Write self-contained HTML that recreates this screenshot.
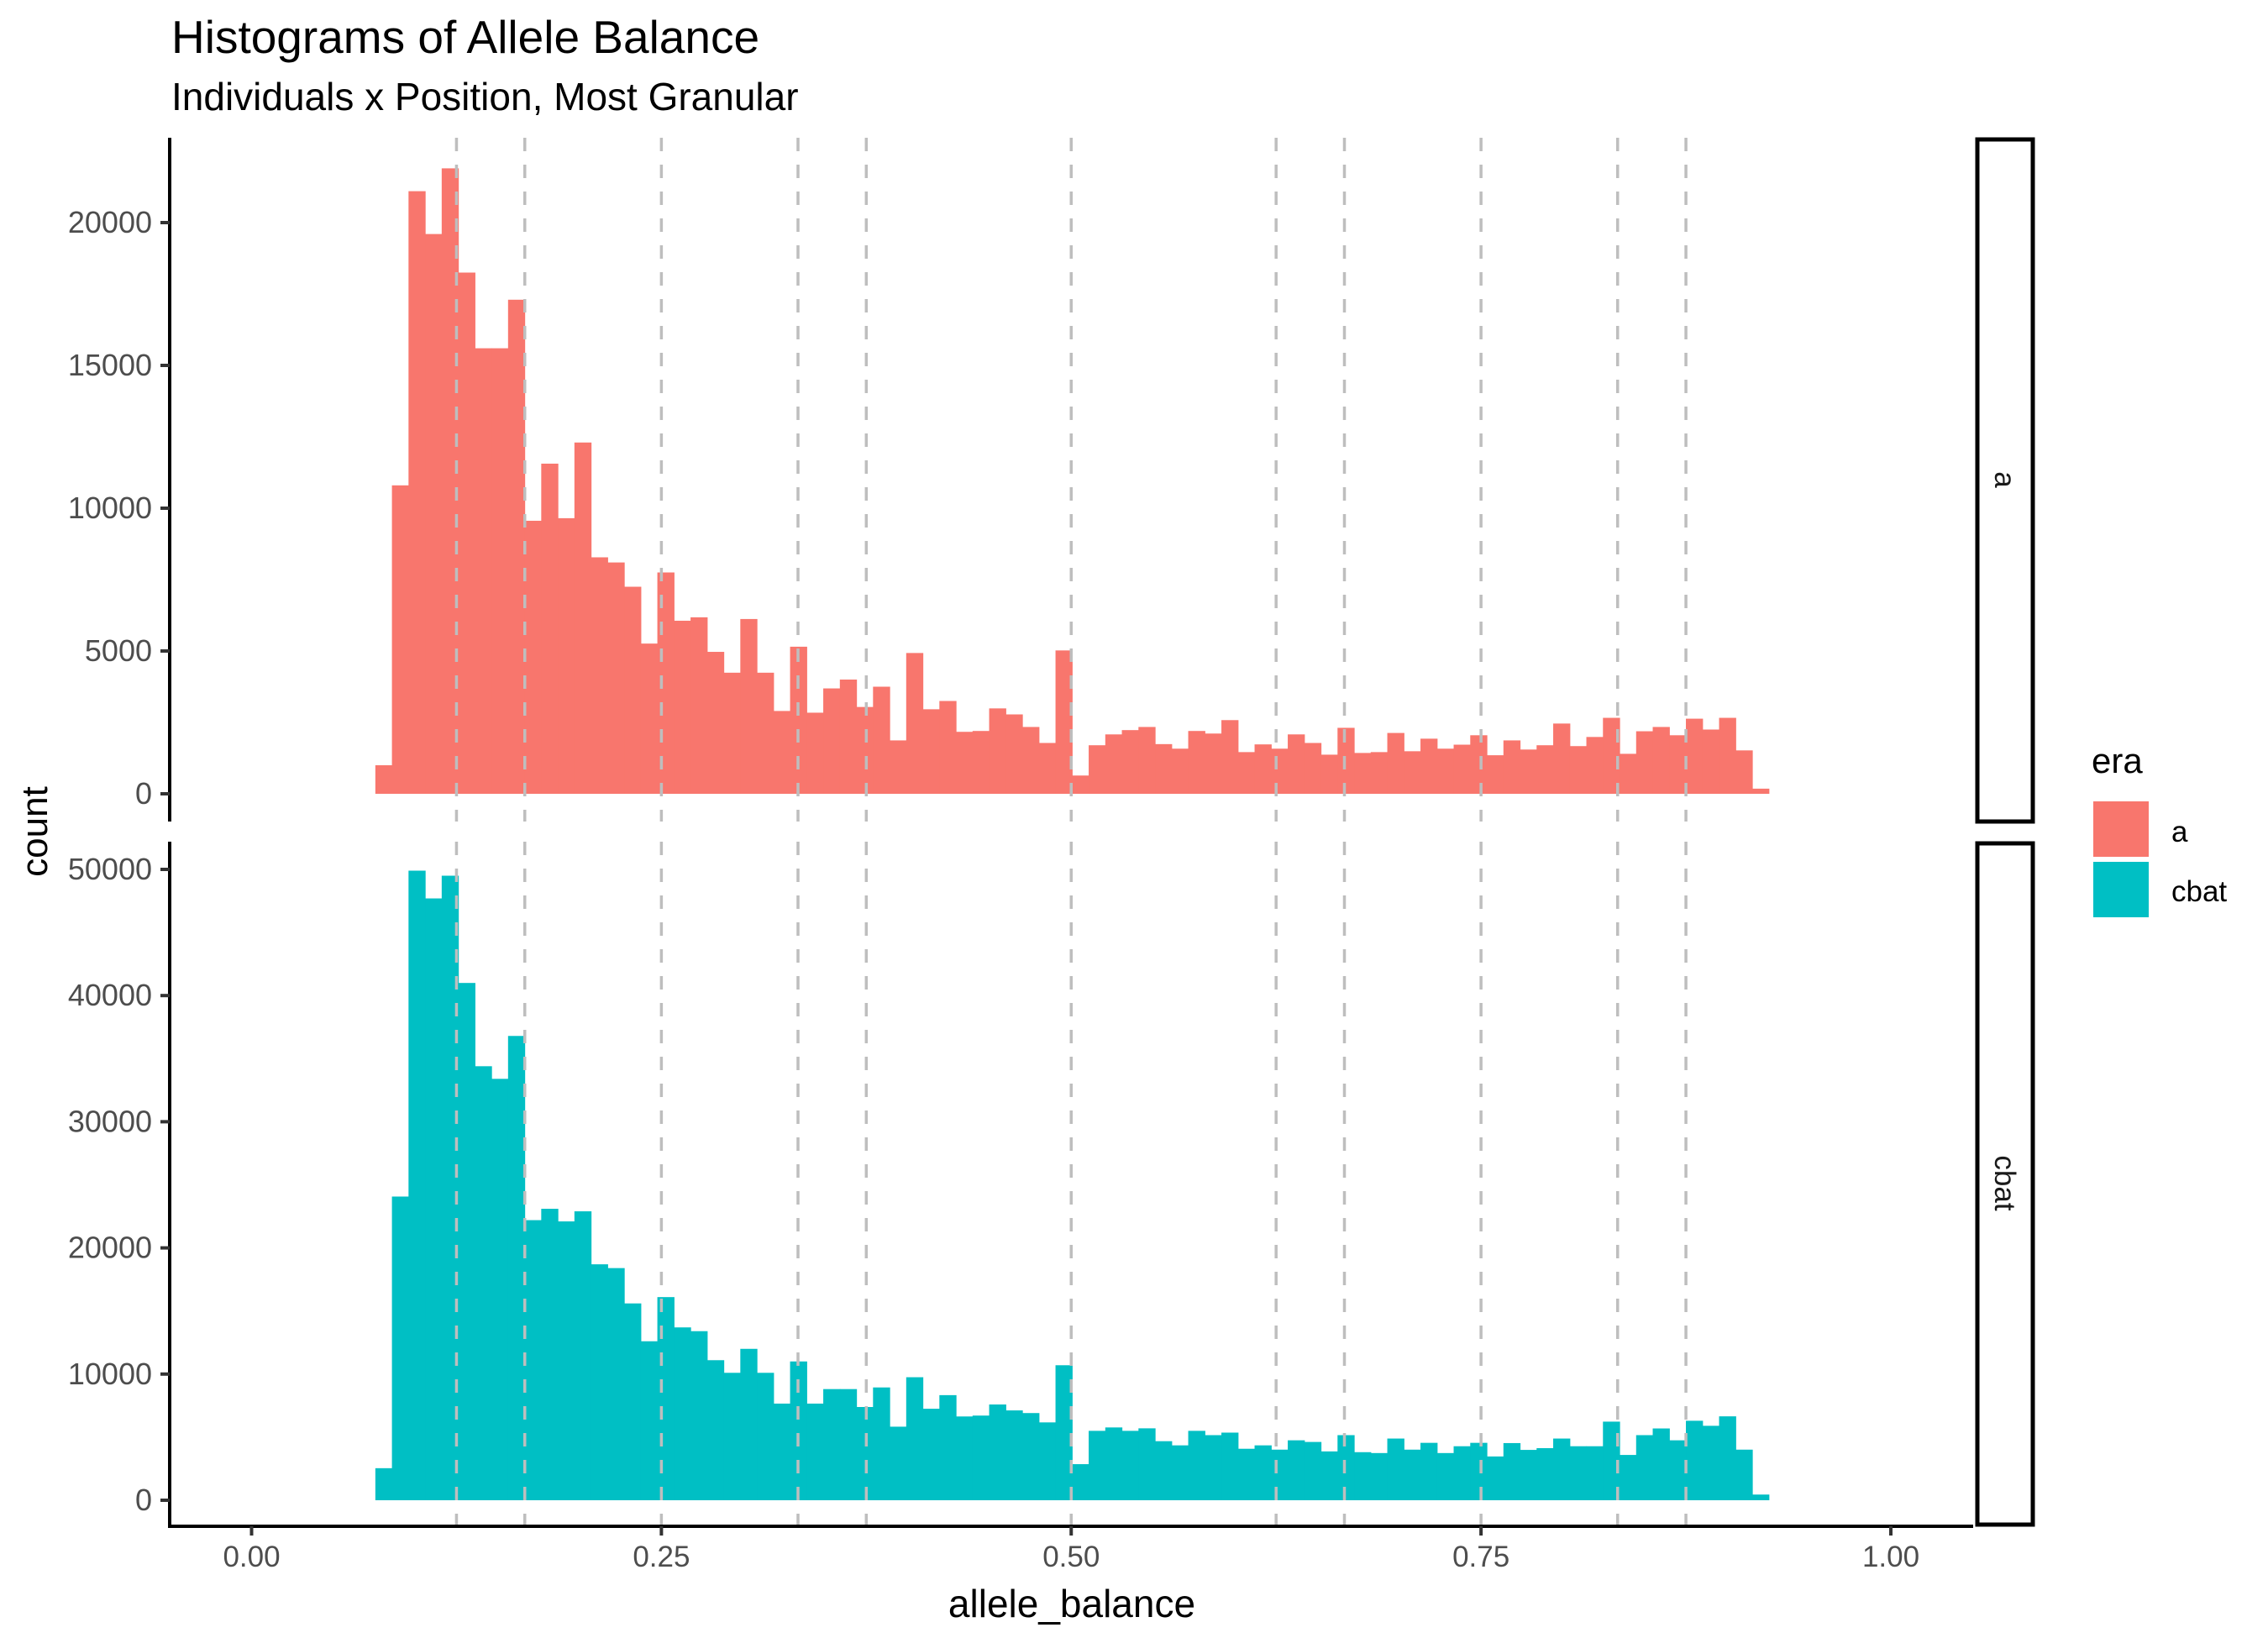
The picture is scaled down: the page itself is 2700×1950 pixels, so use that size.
<!DOCTYPE html>
<html>
<head>
<meta charset="utf-8">
<style>
html,body{margin:0;padding:0;background:#fff;}
svg{display:block;font-family:"Liberation Sans",Arial,sans-serif;}
</style>
</head>
<body>
<svg id="chart" width="2700" height="1950" viewBox="0 0 2700 1950" xmlns="http://www.w3.org/2000/svg">
  <rect x="0" y="0" width="2700" height="1950" fill="#fff"/>
  <text x="204" y="63" font-size="55" fill="#000">Histograms of Allele Balance</text>
  <text x="204" y="131" font-size="46" fill="#000">Individuals x Position, Most Granular</text>
  <g id="panels"></g>
  <text x="1276" y="1925" font-size="46" text-anchor="middle" fill="#000">allele_balance</text>
  <text transform="translate(56,990) rotate(-90)" font-size="44" text-anchor="middle" fill="#000">count</text>
  <text x="2490" y="920" font-size="42" fill="#000">era</text>
  <rect x="2492" y="954" width="66" height="66" fill="#F8766D"/>
  <text x="2585" y="1002" font-size="35" fill="#000">a</text>
  <rect x="2492" y="1026" width="66" height="66" fill="#00BFC4"/>
  <text x="2585" y="1073" font-size="35" fill="#000">cbat</text>
</svg>
<script>
// bins: 84 bins, start and width (allele_balance units)
const binStart = 0.0755;
const binWidth = 0.01012;
// counts per bin, era "a"
const countsA = [1000,10800,21100,19600,21900,18250,15600,15600,17300,9560,11560,9650,12300,8280,8100,7250,5260,7750,6060,6180,4970,4240,6120,4240,2900,5150,2840,3690,4000,3040,
3750,1870,4930,2960,3250,2170,2200,2990,2780,2340,1780,5020,
640,1700,2080,2230,2340,1740,1580,2200,2110,2580,1460,1730,1580,2080,1780,1370,2310,
1430,1460,2130,1490,1930,1580,1720,2050,1350,1870,1550,1700,2460,1670,1990,2660,1400,2190,2340,2050,2630,2250,2660,1520,180];
// counts per bin, era "cbat"
const countsCbat = [2540,24070,49900,47700,49500,41000,34400,33400,36800,22200,23100,22100,22900,18700,18400,15600,12600,16100,13700,13400,11100,10100,12000,10100,7660,11000,7660,8810,8810,7390,
8940,5830,9750,7250,8330,6640,6710,7590,7120,6910,6170,10700,
2860,5500,5770,5500,5700,4680,4350,5500,5160,5360,4080,4350,4010,4750,4620,3870,5160,
3810,3740,4890,4010,4550,3740,4280,4550,3470,4530,3990,4130,4890,4280,4280,6230,3590,5160,5690,4750,6300,5900,6650,4010,450];
// reference lines
const vlines = [1/8,1/6,1/4,1/3,3/8,1/2,5/8,2/3,3/4,5/6,7/8];
const xTicks = [0,0.25,0.5,0.75,1];
const xTickLabels = ["0.00","0.25","0.50","0.75","1.00"];
const yTicksA = [0,5000,10000,15000,20000];
const yTicksCbat = [0,10000,20000,30000,40000,50000];

const NS = "http://www.w3.org/2000/svg";
const X0 = 299.5, XS = 1951.5;
function x(v){ return X0 + v*XS; }
const panelLeft = 202, panelRight = 2349;

const panels = [
  {name:"a", counts:countsA, ticks:yTicksA, top:164, bottom:978, base:945, scale:0.034, color:"#F8766D", label:"a"},
  {name:"cbat", counts:countsCbat, ticks:yTicksCbat, top:1002, bottom:1815, base:1786, scale:0.01502, color:"#00BFC4", label:"cbat"}
];
const root = document.getElementById('panels');
function mk(tag, attrs){ const e=document.createElementNS(NS,tag); for(const k in attrs) e.setAttribute(k, attrs[k]); return e; }

panels.forEach(p=>{
  const y = v => p.base - v*p.scale;
  const g = mk('g',{});
  
  
  root.appendChild(g);
  p.counts.forEach((c,i)=>{
    const x1 = x(binStart + i*binWidth), x2 = x(binStart + (i+1)*binWidth);
    const r = mk('rect',{x:x1, y:y(c), width:(x2-x1+0.6), height:(p.base - y(c)), fill:p.color});
    
    
    g.appendChild(r);
  });
  vlines.forEach((v,i)=>{
    const l = mk('line',{x1:x(v), x2:x(v), y1:p.top, y2:p.bottom, stroke:"#BEBEBE", 'stroke-width':3.5, 'stroke-dasharray':"16 16"});
    
    
    g.appendChild(l);
  });
  const ax = mk('line',{x1:panelLeft, x2:panelLeft, y1:p.top, y2:p.bottom + (p.name==="cbat"?4:0), stroke:"#000", 'stroke-width':4});
  
  
  g.appendChild(ax);
  p.ticks.forEach(t=>{
    const tk = mk('line',{x1:191, x2:panelLeft, y1:y(t), y2:y(t), stroke:"#333", 'stroke-width':4});
    
    
    g.appendChild(tk);
    const tx = mk('text',{x:181, y:y(t)+12, 'font-size':36, 'text-anchor':'end', fill:'#4D4D4D'});
    tx.textContent = String(t);
    
    
    g.appendChild(tx);
  });
  const sb = mk('rect',{x:2354, y:p.top+2, width:66, height:(p.bottom - p.top - 2), fill:'#fff', stroke:'#000', 'stroke-width':5});
  
  
  g.appendChild(sb);
  const cy = (p.top + p.bottom)/2;
  const st = mk('text',{transform:'translate(2375,'+cy+') rotate(90)', 'font-size':35, 'text-anchor':'middle', fill:'#1A1A1A'});
  st.textContent = p.label;
  
  
  g.appendChild(st);
});

// x axis
const xa = mk('line',{x1:panelLeft-2, x2:panelRight, y1:1817, y2:1817, stroke:"#000", 'stroke-width':4});


root.appendChild(xa);
xTicks.forEach((t,i)=>{
  const tk = mk('line',{x1:x(t), x2:x(t), y1:1817, y2:1828, stroke:"#333", 'stroke-width':4});
  
  
  root.appendChild(tk);
  const tx = mk('text',{x:x(t), y:1865, 'font-size':35, 'text-anchor':'middle', fill:'#4D4D4D'});
  tx.textContent = xTickLabels[i];
  
  
  root.appendChild(tx);
});
</script>
</body>
</html>
